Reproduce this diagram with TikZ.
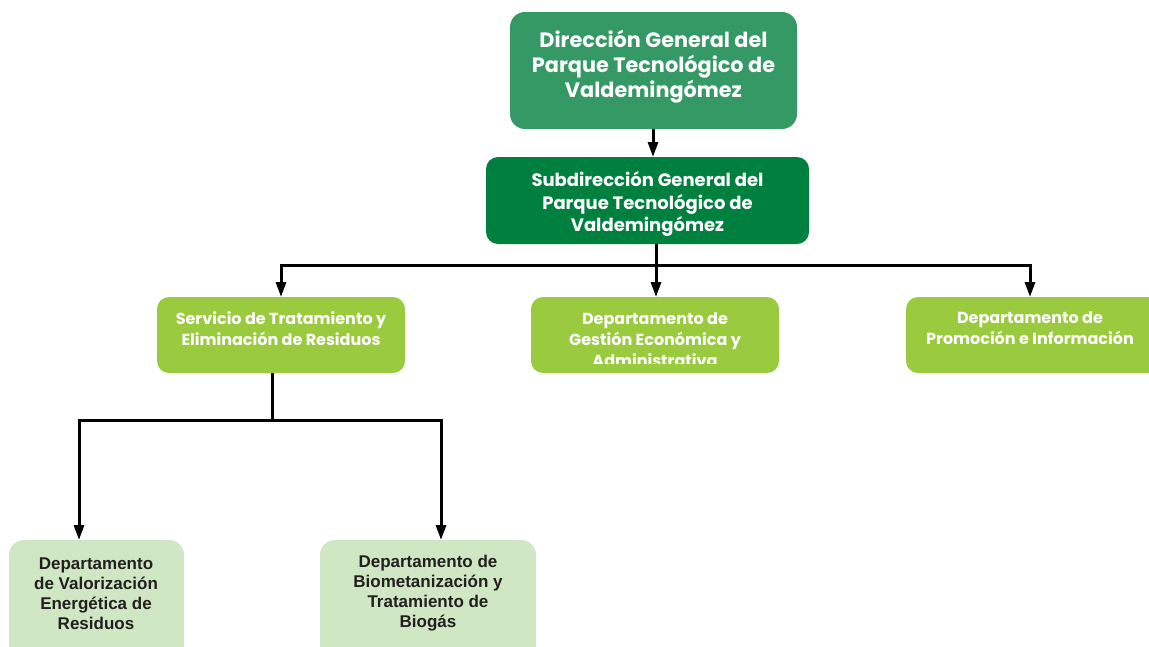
\documentclass[tikz,border=0pt]{standalone}
\usepackage{fontspec}
\setmainfont{Liberation Sans}
\newfontfamily\gothic{Poppins}
\usetikzlibrary{arrows.meta}
\definecolor{cTop}{RGB}{52,153,100}
\definecolor{cSub}{RGB}{0,128,62}
\definecolor{cMid}{RGB}{154,203,62}
\definecolor{cLow}{RGB}{208,231,196}
\definecolor{cTxt}{RGB}{35,31,32}
\begin{document}
\begin{tikzpicture}[x=1pt,y=-1pt,
  conn/.style={line width=3pt, -{Triangle[length=15pt,width=10pt]}},
  line/.style={line width=3pt},
  gtext/.style={text=white, align=center},
  ltext/.style={text=cTxt, align=center}]
\useasboundingbox (0,0) rectangle (1149,646);
% boxes
\fill[cTop, rounded corners=15pt] (510,12) rectangle (797,129);
\fill[cSub, rounded corners=12pt] (486,157) rectangle (809,244);
\fill[cMid, rounded corners=12pt] (157,297) rectangle (405,373);
\fill[cMid, rounded corners=12pt] (531,297) rectangle (779,373);
\fill[cMid, rounded corners=12pt] (906,297) rectangle (1170,373);
\fill[cLow, rounded corners=15pt] (9,540) rectangle (184,680);
\fill[cLow, rounded corners=15pt] (320,540) rectangle (536,680);
% named anchors
\coordinate (top) at (653,129);
\coordinate (subtop) at (653,157);
\coordinate (subbot) at (656,244);
\coordinate (bus) at (656,265);
\coordinate (busL) at (281,265);
\coordinate (busR) at (1030,265);
\coordinate (servT) at (281,297);
\coordinate (gestT) at (656,297);
\coordinate (promT) at (1030,297);
\coordinate (servB) at (272,373);
\coordinate (bus2) at (272,420);
\coordinate (bus2L) at (79,420);
\coordinate (bus2R) at (441,420);
\coordinate (valT) at (79,540);
\coordinate (bioT) at (441,540);
% texts
\node[gtext, font=\gothic\bfseries\fontsize{20.8}{25}\selectfont] (dg) at (653.5,66.5) {Dirección General del\\Parque Tecnológico de\\Valdemingómez};
\node[gtext, font=\gothic\bfseries\fontsize{18}{22.5}\selectfont] (sg) at (647.5,204) {Subdirección General del\\Parque Tecnológico de\\Valdemingómez};
\node[gtext, font=\gothic\bfseries\fontsize{16}{21}\selectfont, anchor=north] (serv) at (281,308) {Servicio de Tratamiento y\\Eliminación de Residuos};
\begin{scope}
\clip (531,297) rectangle (779,363);
\node[gtext, font=\gothic\bfseries\fontsize{16}{21}\selectfont, anchor=north] (gest) at (655,309) {Departamento de\\Gestión Económica y\\Administrativa};
\end{scope}
\node[gtext, font=\gothic\bfseries\fontsize{16}{21}\selectfont, anchor=north] (prom) at (1030,308) {Departamento de\\Promoción e Información};
\node[ltext, font=\bfseries\fontsize{17}{20}\selectfont] (val) at (96,593.5) {Departamento\\de Valorización\\Energética de\\Residuos};
\node[ltext, font=\bfseries\fontsize{17}{20}\selectfont] (bio) at (428,593.5) {Departamento de\\Biometanización y\\Tratamiento de\\Biogás};
% connectors
\draw[conn] (top) -- (subtop);
\draw[line] (subbot) -- (bus);
\draw[conn] (bus) -- (busL) -- (servT);
\draw[conn] (bus) -- (busR) -- (promT);
\draw[conn] (bus) -- (gestT);
\draw[line] (servB) -- (bus2);
\draw[conn] (bus2) -- (bus2L) -- (valT);
\draw[conn] (bus2) -- (bus2R) -- (bioT);
\end{tikzpicture}
\end{document}
